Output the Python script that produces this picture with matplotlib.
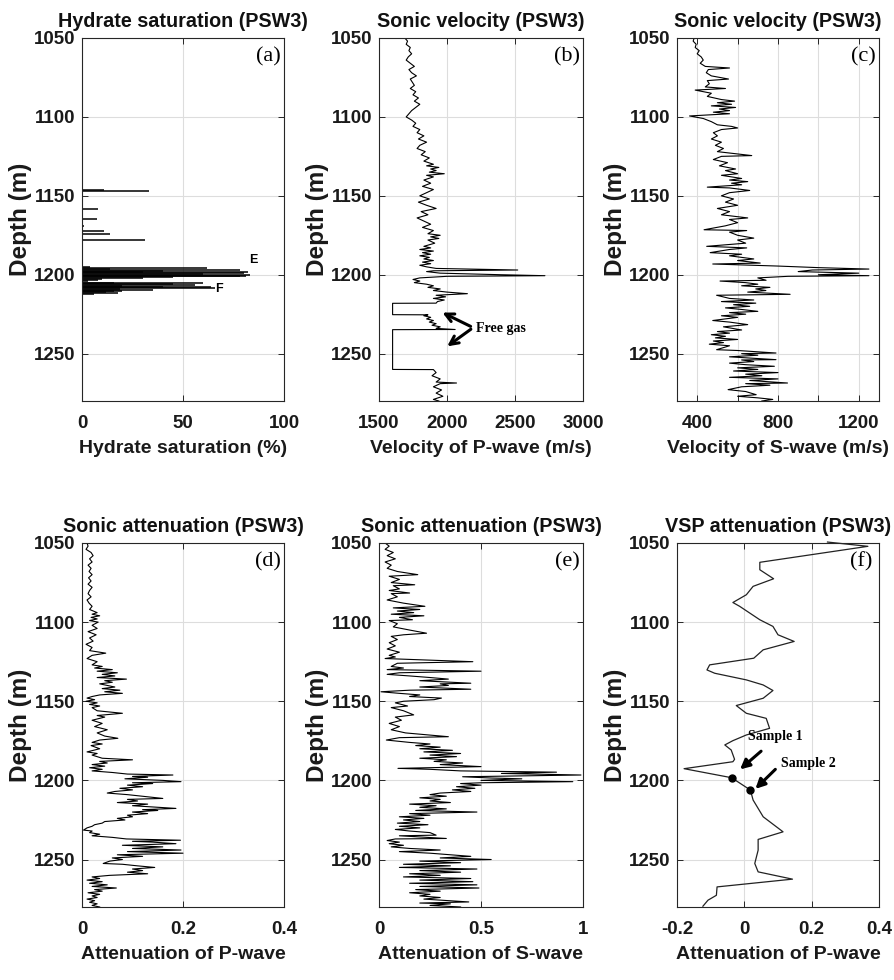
import matplotlib
matplotlib.use('Agg')
import matplotlib.pyplot as plt

plt.rcParams['font.family'] = ['Liberation Sans', 'DejaVu Sans']
plt.rcParams['font.weight'] = 'bold'

# (a) hydrate saturation, depth (m) / saturation (%)
depth_a = [1146.5, 1147, 1158.5, 1165, 1169, 1172, 1174.5, 1178, 1195, 1196, 1196.5, 1197, 1197.5,
           1198, 1198.5, 1199, 1199.5, 1200, 1200.5, 1201, 1201.5, 1202, 1202.5, 1203.5, 1204,
           1205, 1205.5, 1206, 1206.5, 1207, 1207.5, 1208, 1208.5, 1209, 1209.5, 1210, 1210.5,
           1211, 1211.5, 1212]
sat_a = [11, 33, 8, 7.5, 1, 11, 14, 31, 4, 62, 14, 78, 40, 82, 30, 80, 60, 83, 78, 81, 45, 30, 10,
         8, 3, 16, 60, 45, 56, 20, 64, 40, 66, 19, 35, 16, 20, 12, 18, 6]

# (b) P-wave velocity (m/s)
depth_b = [1050, 1052, 1054, 1056, 1058, 1060, 1062, 1064, 1066, 1068, 1070, 1072, 1074, 1076,
           1078, 1080, 1082, 1084, 1086, 1088, 1090, 1092, 1094, 1096, 1098, 1100, 1102, 1104,
           1106, 1108, 1110, 1112, 1114, 1116, 1118, 1120, 1122, 1124, 1126, 1128, 1130, 1131,
           1132, 1133, 1134, 1135, 1136, 1137, 1138, 1140, 1142, 1144, 1146, 1148, 1150, 1152,
           1154, 1156, 1158, 1160, 1162, 1164, 1166, 1168, 1170, 1172, 1174, 1175, 1176, 1177,
           1178, 1180, 1182, 1183, 1184, 1185, 1186, 1187, 1188, 1189, 1190, 1191, 1192, 1193,
           1194, 1195, 1196, 1197, 1197.5, 1198, 1199, 1200, 1200.6, 1201, 1202, 1203, 1204,
           1205, 1206, 1207, 1208, 1209, 1210, 1211, 1212, 1213, 1214, 1215, 1216, 1217, 1218,
           1218.1, 1225.3, 1225.4, 1226, 1227, 1228, 1229, 1230, 1231, 1232, 1233, 1234,
           1234.7, 1234.8, 1260, 1260.1, 1262, 1264, 1266, 1268, 1268.6, 1269, 1271, 1273,
           1275, 1277, 1279, 1280]
vp_b = [1690, 1710, 1700, 1730, 1720, 1740, 1715, 1700, 1730, 1760, 1720, 1740, 1775, 1730,
        1745, 1760, 1730, 1770, 1750, 1790, 1760, 1800, 1770, 1740, 1720, 1700, 1740, 1770,
        1750, 1800, 1780, 1830, 1790, 1850, 1800, 1780, 1840, 1810, 1870, 1830, 1900, 1850,
        1940, 1880, 1920, 1870, 1980, 1850, 1900, 1830, 1880, 1820, 1900, 1850, 1800, 1870,
        1790, 1850, 1920, 1810, 1860, 1780, 1830, 1880, 1820, 1900, 1860, 1950, 1880, 1940,
        1860, 1910, 1830, 1880, 1800, 1900, 1820, 1880, 1800, 1870, 1830, 1900, 1820, 1880,
        1800, 1850, 1920, 2520, 1900, 1850, 1950, 2400, 2720, 2000, 1800, 1750, 1800,
        1760, 1850, 1900, 1860, 1950, 1900, 2000, 2150, 1920, 1990, 1900, 1980, 1930, 1920,
        1600, 1600, 1860, 1830, 1880, 1850, 1900, 1870, 1920, 1890, 1950, 1920,
        2060, 1600, 1600, 1900, 1920, 1890, 1950, 1920, 2070, 1950, 1900, 1960,
        1920, 1970, 1900, 1940]

# (c) S-wave velocity (m/s)
depth_c = [1050, 1052, 1054, 1056, 1058, 1060, 1062, 1064, 1066, 1068, 1069, 1070, 1072, 1074,
           1076, 1077, 1079, 1081, 1082, 1083, 1085, 1087, 1089, 1090, 1091, 1092, 1093, 1094,
           1095, 1096, 1097, 1098, 1099.4, 1101, 1103, 1105, 1106, 1107, 1108, 1110, 1112, 1114,
           1116, 1118, 1120, 1122, 1124.5, 1125, 1127, 1129, 1131, 1133, 1134, 1136, 1137, 1139,
           1140, 1141, 1142, 1143, 1144.5, 1145, 1146.6, 1148, 1150, 1152, 1154, 1156, 1158, 1160,
           1162, 1164, 1165, 1167, 1169, 1171.5, 1172, 1173, 1175, 1176.8, 1178, 1180, 1182, 1183,
           1184, 1186, 1187, 1188, 1190, 1191, 1192.6, 1193.2, 1194.5, 1195.5, 1196.4, 1197,
           1198, 1199, 1200, 1200.6, 1201, 1202, 1203.5, 1204, 1205, 1206, 1207, 1208, 1209,
           1210, 1211, 1212.4, 1213, 1215, 1216, 1217, 1218, 1219, 1220, 1221, 1222, 1223.2,
           1224, 1225, 1226, 1227, 1229, 1230, 1231.6, 1233, 1235, 1236, 1237, 1238, 1239, 1240,
           1241, 1242, 1243, 1244, 1245, 1247.5, 1248, 1249.6, 1250, 1251, 1252, 1253.8, 1254,
           1255, 1256, 1257, 1258, 1259, 1260, 1261, 1262, 1263, 1264, 1265, 1266, 1267, 1268.6,
           1269, 1270, 1271, 1272.8, 1274, 1276, 1277, 1278, 1279, 1280]
vs_c = [385, 380, 395, 390, 410, 400, 420, 430, 415, 440, 560, 455, 445, 470,
        555, 450, 460, 440, 540, 390, 470, 450, 520, 585, 500, 570, 470, 590,
        510, 560, 480, 560, 362, 430, 470, 500, 570, 600, 520, 480, 500, 470,
        520, 490, 530, 500, 670, 520, 480, 550, 510, 590, 540, 600, 520, 620,
        560, 650, 570, 620, 450, 560, 660, 560, 520, 580, 540, 600, 500, 560,
        520, 650, 560, 600, 540, 434, 645, 560, 600, 680, 600, 640, 447, 645,
        560, 464, 620, 560, 680, 600, 712, 477, 800, 1000, 1250, 970,
        900, 1200, 1000, 1250, 850, 700, 741, 513, 640, 700, 620, 760, 690,
        740, 650, 860, 496, 560, 680, 520, 690, 580, 660, 540, 620, 700,
        560, 640, 520, 600, 477, 560, 650, 530, 620, 500, 560, 470, 540, 490,
        600, 480, 530, 460, 560, 496, 600, 790, 620, 700, 560, 790, 620,
        680, 560, 640, 782, 600, 700, 580, 800, 640, 720, 560, 800, 660, 847,
        640, 760, 620, 553, 640, 692, 600, 700, 774, 720]

# (d) sonic P-wave attenuation
depth_d = [1050, 1052, 1054, 1056, 1058, 1060, 1062, 1064, 1066, 1068, 1070, 1072, 1074, 1076,
           1078, 1080, 1082, 1084, 1086, 1088, 1090, 1092, 1094, 1095, 1096, 1097, 1098, 1099,
           1100, 1102, 1104, 1106, 1108, 1110, 1112, 1114, 1116, 1118, 1119.6, 1121, 1123, 1125,
           1127, 1128, 1129, 1130, 1131, 1132, 1133, 1134, 1135, 1136, 1137, 1138, 1139, 1140,
           1141, 1142, 1143, 1144, 1145, 1146, 1147, 1148, 1149, 1150, 1151, 1152, 1153, 1154,
           1156, 1157.6, 1159, 1160, 1162, 1164, 1166, 1168, 1170, 1172, 1173.4, 1174.5, 1176,
           1177, 1178, 1180, 1182, 1183, 1184, 1186, 1187, 1188, 1189, 1190, 1191, 1192, 1193,
           1194, 1195, 1196, 1196.6, 1197.5, 1198, 1199, 1200, 1200.8, 1201.5, 1202, 1203, 1204,
           1205, 1206, 1207, 1208, 1209, 1210, 1211.4, 1212, 1213, 1214, 1215, 1216, 1217,
           1217.7, 1218.5, 1219, 1220, 1221, 1222, 1223, 1224, 1225, 1226, 1227, 1228, 1229,
           1230, 1231.4, 1232, 1233, 1234, 1235, 1236, 1237, 1237.8, 1238.5, 1239, 1240, 1241,
           1242, 1243, 1244, 1245, 1246, 1247, 1248, 1249, 1250, 1251, 1252.5, 1253, 1254, 1255,
           1256, 1257, 1258, 1259, 1260, 1261, 1262, 1263, 1264, 1265, 1266, 1267, 1268, 1269,
           1270, 1271, 1272, 1273, 1274, 1275, 1276, 1277, 1278, 1279, 1280]
qp_d = [0.01, 0.012, 0.008, 0.018, 0.022, 0.015, 0.02, 0.012, 0.018, 0.014, 0.02, 0.013, 0.018,
        0.012, 0.02, 0.015, 0.012, 0.018, 0.01, 0.014, 0.02, 0.015, 0.03, 0.02, 0.035, 0.018,
        0.03, 0.015, 0.032, 0.02, 0.03, 0.012, 0.028, 0.015, 0.022, 0.008, 0.02, 0.015, 0.047,
        0.02, 0.01, 0.03, 0.02, 0.04, 0.025, 0.06, 0.03, 0.07, 0.04, 0.065, 0.03, 0.088, 0.045,
        0.06, 0.035, 0.05, 0.065, 0.04, 0.075, 0.045, 0.08, 0.035, 0.02, 0.01, 0.025, 0.008,
        0.03, 0.015, 0.035, 0.02, 0.03, 0.08, 0.03, 0.045, 0.02, 0.04, 0.025, 0.05, 0.03, 0.045,
        0.071, 0.035, 0.02, 0.04, 0.018, 0.035, 0.01, 0.03, 0.02, 0.04, 0.1, 0.035, 0.05, 0.02,
        0.045, 0.015, 0.04, 0.02, 0.06, 0.09, 0.18, 0.1, 0.13, 0.085, 0.16, 0.196, 0.1, 0.14,
        0.09, 0.12, 0.075, 0.1, 0.065, 0.05, 0.09, 0.12, 0.16, 0.09, 0.11, 0.07, 0.13, 0.1,
        0.15, 0.186, 0.12, 0.15, 0.1, 0.13, 0.09, 0.1, 0.07, 0.085, 0.045, 0.04, 0.025, 0.02,
        0.01, 0.003, 0.02, 0.015, 0.035, 0.02, 0.06, 0.088, 0.195, 0.1, 0.14, 0.186, 0.08, 0.16,
        0.1, 0.196, 0.09, 0.2, 0.07, 0.12, 0.06, 0.08, 0.055, 0.042, 0.08, 0.11, 0.144, 0.1,
        0.12, 0.09, 0.13, 0.055, 0.02, 0.035, 0.01, 0.04, 0.015, 0.05, 0.02, 0.068, 0.025,
        0.04, 0.012, 0.035, 0.02, 0.03, 0.01, 0.025, 0.015, 0.03, 0.02, 0.035]

# (e) sonic S-wave attenuation
depth_e = [1050, 1052, 1054, 1056, 1058, 1060, 1062, 1064, 1066, 1068, 1070, 1071, 1073, 1075,
           1076.4, 1077, 1079, 1080, 1081.6, 1082, 1084, 1086, 1088, 1090, 1091, 1092, 1093,
           1094, 1095, 1096, 1097, 1098.5, 1099, 1101, 1103, 1105, 1107, 1108, 1109, 1111, 1113,
           1115, 1117, 1119, 1121, 1122, 1123, 1125, 1126, 1128, 1129, 1130, 1131, 1132, 1133,
           1134, 1135, 1136, 1137, 1138.6, 1139, 1140, 1141, 1142.4, 1143, 1144, 1145, 1146,
           1147, 1148, 1149, 1150, 1151, 1153, 1154, 1156, 1158.6, 1160, 1162, 1164, 1166, 1168,
           1170, 1172.4, 1173, 1174.5, 1176, 1177, 1178, 1179, 1180, 1181, 1182, 1183, 1184,
           1185, 1186, 1187, 1188, 1189, 1190, 1191.3, 1192.4, 1193, 1194, 1194.8, 1195.6,
           1196.6, 1197.7, 1198.5, 1199, 1200, 1200.8, 1201.5, 1202, 1203, 1204, 1205, 1206,
           1207, 1208, 1209, 1210, 1211, 1212, 1213, 1214, 1215, 1216, 1217, 1218, 1219, 1220,
           1221, 1222, 1223, 1224, 1225, 1226, 1227, 1228, 1229, 1230, 1231, 1232, 1233, 1234.6,
           1235, 1236.7, 1237, 1238, 1239, 1240, 1241, 1242, 1243, 1244, 1245, 1246, 1247, 1248,
           1249, 1250, 1251, 1252, 1253, 1254, 1255, 1256, 1257, 1258, 1259, 1260, 1261, 1262,
           1263, 1264, 1265, 1266, 1267, 1268, 1269, 1270, 1271, 1272, 1273, 1274, 1275, 1276.8,
           1277.5, 1278, 1279, 1280]
qs_e = [0.03, 0.05, 0.03, 0.07, 0.04, 0.08, 0.03, 0.06, 0.04, 0.09, 0.19, 0.05, 0.1, 0.06,
        0.175, 0.07, 0.1, 0.05, 0.15, 0.06, 0.09, 0.04, 0.12, 0.225, 0.07, 0.2, 0.09,
        0.17, 0.06, 0.22, 0.1, 0.164, 0.05, 0.09, 0.07, 0.15, 0.233, 0.12, 0.06, 0.09, 0.05,
        0.08, 0.04, 0.1, 0.05, 0.08, 0.03, 0.46, 0.09, 0.06, 0.12, 0.04, 0.5, 0.1, 0.04,
        0.15, 0.25, 0.34, 0.2, 0.45, 0.3, 0.34, 0.2, 0.45, 0.15, 0.01, 0.1, 0.2,
        0.15, 0.306, 0.27, 0.12, 0.08, 0.14, 0.06, 0.12, 0.17, 0.08, 0.11, 0.05, 0.1, 0.06,
        0.13, 0.34, 0.1, 0.036, 0.15, 0.25, 0.18, 0.3, 0.2, 0.36, 0.22, 0.4, 0.25,
        0.38, 0.2, 0.33, 0.27, 0.41, 0.3, 0.5, 0.093, 0.25, 0.4, 0.87, 0.6,
        0.99, 0.41, 0.55, 0.7, 0.5, 0.95, 0.5, 0.4, 0.5, 0.38, 0.47, 0.36,
        0.45, 0.3, 0.25, 0.33, 0.2, 0.3, 0.25, 0.35, 0.15, 0.28, 0.2, 0.33, 0.18, 0.48,
        0.15, 0.25, 0.1, 0.22, 0.12, 0.2, 0.09, 0.24, 0.1, 0.2, 0.08, 0.15, 0.25, 0.28,
        0.1, 0.33, 0.08, 0.04, 0.1, 0.05, 0.12, 0.06, 0.15, 0.3, 0.1, 0.25, 0.35, 0.45,
        0.3, 0.55, 0.2, 0.4, 0.12, 0.35, 0.1, 0.48, 0.2, 0.4, 0.15, 0.3, 0.12, 0.45,
        0.2, 0.46, 0.15, 0.48, 0.2, 0.49, 0.18, 0.3, 0.15, 0.25, 0.2, 0.3, 0.22, 0.44,
        0.2, 0.35, 0.25, 0.4]

# (f) VSP P-wave attenuation
depth_f = [1049.4, 1052.1, 1062.2, 1066.9, 1072.6, 1077.4, 1082.7, 1087.6, 1090, 1098.5, 1102.7,
           1108, 1112.2, 1117.5, 1122.8, 1127, 1130.2, 1132.3, 1136.5, 1139.7, 1143.2, 1148.1,
           1152.7, 1157.6, 1160.8, 1167.1, 1171.3, 1174.9, 1177.6, 1180.8, 1186.7, 1188.2,
           1192.6, 1198.3, 1206.1, 1212.4, 1223, 1232.5, 1237.3, 1244.1, 1252.5, 1257.8, 1262.4,
           1267.3, 1272.6, 1275.7, 1279.5]
qp_f = [0.247, 0.367, 0.046, 0.046, 0.087, 0.026, 0.006, -0.034, -0.014, 0.046, 0.085,
        0.1, 0.148, 0.056, 0.028, -0.103, -0.111, -0.088, 0.006, 0.056, 0.085, 0.056,
        -0.024, 0.006, 0.065, 0.075, 0.006, -0.034, -0.058, -0.039, -0.029, -0.034,
        -0.179, -0.038, 0.018, 0.026, 0.056, 0.115, 0.041, 0.041, 0.031, 0.041, 0.143,
        -0.081, -0.083, -0.108, -0.123]
sample_idx = [33, 34]
sample_names = ['Sample 1', 'Sample 2']

depth_ticks = [1050, 1100, 1150, 1200, 1250]

fig = plt.figure(figsize=(8.95, 9.80), dpi=100)
W, H = 895.0, 980.0


def make_axes(left, top, right, bottom):
    return fig.add_axes([left / W, 1 - bottom / H, (right - left) / W, (bottom - top) / H])


def style(ax, xlim, xticks, xlabel, title, tag, xticklabels=None, tagx=0.985):
    ax.set_ylim(1280, 1050)
    ax.set_xlim(*xlim)
    ax.set_yticks(depth_ticks)
    ax.set_xticks(xticks)
    if xticklabels is not None:
        ax.set_xticklabels(xticklabels)
    ax.grid(True, color='#dddddd', lw=0.8)
    ax.set_axisbelow(True)
    ax.tick_params(direction='in', top=True, right=True, length=4, width=0.7,
                   colors='#262626', labelcolor='#1a1a1a', labelsize=13.5)
    ax.tick_params(axis='x', pad=10)
    ax.tick_params(axis='y', pad=5)
    for s in ax.spines.values():
        s.set_color('#262626')
        s.set_linewidth(0.8)
    ax.set_xlabel(xlabel, fontsize=14, fontweight='bold', labelpad=6, color='#1a1a1a')
    ax.set_ylabel('Depth (m)', fontsize=17.5, fontweight='bold', labelpad=1, color='#1a1a1a')
    ax.set_title(title, fontsize=14.2, fontweight='bold', pad=8, color='#111111')
    ax.text(tagx, 0.975, tag, transform=ax.transAxes, ha='right', va='top',
            family='Liberation Serif', fontweight='normal', fontsize=16)


cols = [(82, 284), (379, 583), (677, 879)]
rows = [(38, 401), (543, 907)]

ax_a = make_axes(cols[0][0], rows[0][0], cols[0][1], rows[0][1])
ax_b = make_axes(cols[1][0], rows[0][0], cols[1][1], rows[0][1])
ax_c = make_axes(cols[2][0], rows[0][0], cols[2][1], rows[0][1])
ax_d = make_axes(cols[0][0], rows[1][0], cols[0][1], rows[1][1])
ax_e = make_axes(cols[1][0], rows[1][0], cols[1][1], rows[1][1])
ax_f = make_axes(cols[2][0], rows[1][0], cols[2][1], rows[1][1])

# (a)
ax_a.hlines(depth_a, 0, sat_a, color='k', lw=1.1)
style(ax_a, (0, 100), [0, 50, 100], 'Hydrate saturation (%)', 'Hydrate saturation (PSW3)', '(a)')
ax_a.text(82.5, 1192.5, 'E', fontsize=9, fontweight='bold')
ax_a.text(66, 1211, 'F', fontsize=9, fontweight='bold')

# (b)
ax_b.plot(vp_b, depth_b, color='k', lw=0.8)
style(ax_b, (1500, 3000), [1500, 2000, 2500, 3000], 'Velocity of P-wave (m/s)',
      'Sonic velocity (PSW3)', '(b)')
arrow_kw = dict(arrowstyle='->', lw=2.2, color='k', mutation_scale=15)
ax_b.annotate('', xy=(1948, 1223.2), xytext=(2192, 1233.5), arrowprops=arrow_kw)
ax_b.annotate('', xy=(1985, 1246.4), xytext=(2192, 1233.5), arrowprops=arrow_kw)
ax_b.text(2212, 1233.8, 'Free gas', family='Liberation Serif', fontweight='bold',
          fontsize=10, va='center', ha='left')

# (c)
ax_c.plot(vs_c, depth_c, color='k', lw=0.8)
style(ax_c, (300, 1300), [400, 600, 800, 1000, 1200], 'Velocity of S-wave (m/s)',
      'Sonic velocity (PSW3)', '(c)', xticklabels=['400', '', '800', '', '1200'])

# (d)
ax_d.plot(qp_d, depth_d, color='k', lw=0.8)
style(ax_d, (0, 0.4), [0, 0.2, 0.4], 'Attenuation of P-wave', 'Sonic attenuation (PSW3)', '(d)')
ax_d.set_xticklabels(['0', '0.2', '0.4'])

# (e)
ax_e.plot(qs_e, depth_e, color='k', lw=0.8)
style(ax_e, (0, 1), [0, 0.5, 1], 'Attenuation of S-wave', 'Sonic attenuation (PSW3)', '(e)')
ax_e.set_xticklabels(['0', '0.5', '1'])

# (f)
ax_f.plot(qp_f, depth_f, color='#222222', lw=0.9, clip_on=False)
ax_f.plot([qp_f[i] for i in sample_idx], [depth_f[i] for i in sample_idx], 'o',
          color='k', ms=5)
style(ax_f, (-0.2, 0.4), [-0.2, 0, 0.2, 0.4], 'Attenuation of P-wave', 'VSP attenuation (PSW3)',
      '(f)', tagx=0.965)
ax_f.set_xticklabels(['-0.2', '0', '0.2', '0.4'])
samp_kw = dict(arrowstyle='-|>', lw=2.2, color='k', mutation_scale=14)
ax_f.annotate('', xy=(-0.019, 1194.2), xytext=(0.056, 1180.4), arrowprops=samp_kw)
ax_f.annotate('', xy=(0.027, 1206.6), xytext=(0.098, 1191.8), arrowprops=samp_kw)
ax_f.text(0.011, 1172.4, sample_names[0], family='Liberation Serif', fontweight='bold',
          fontsize=10, va='center', ha='left')
ax_f.text(0.108, 1189.2, sample_names[1], family='Liberation Serif', fontweight='bold',
          fontsize=10, va='center', ha='left')

fig.savefig('out.png', dpi=100)
